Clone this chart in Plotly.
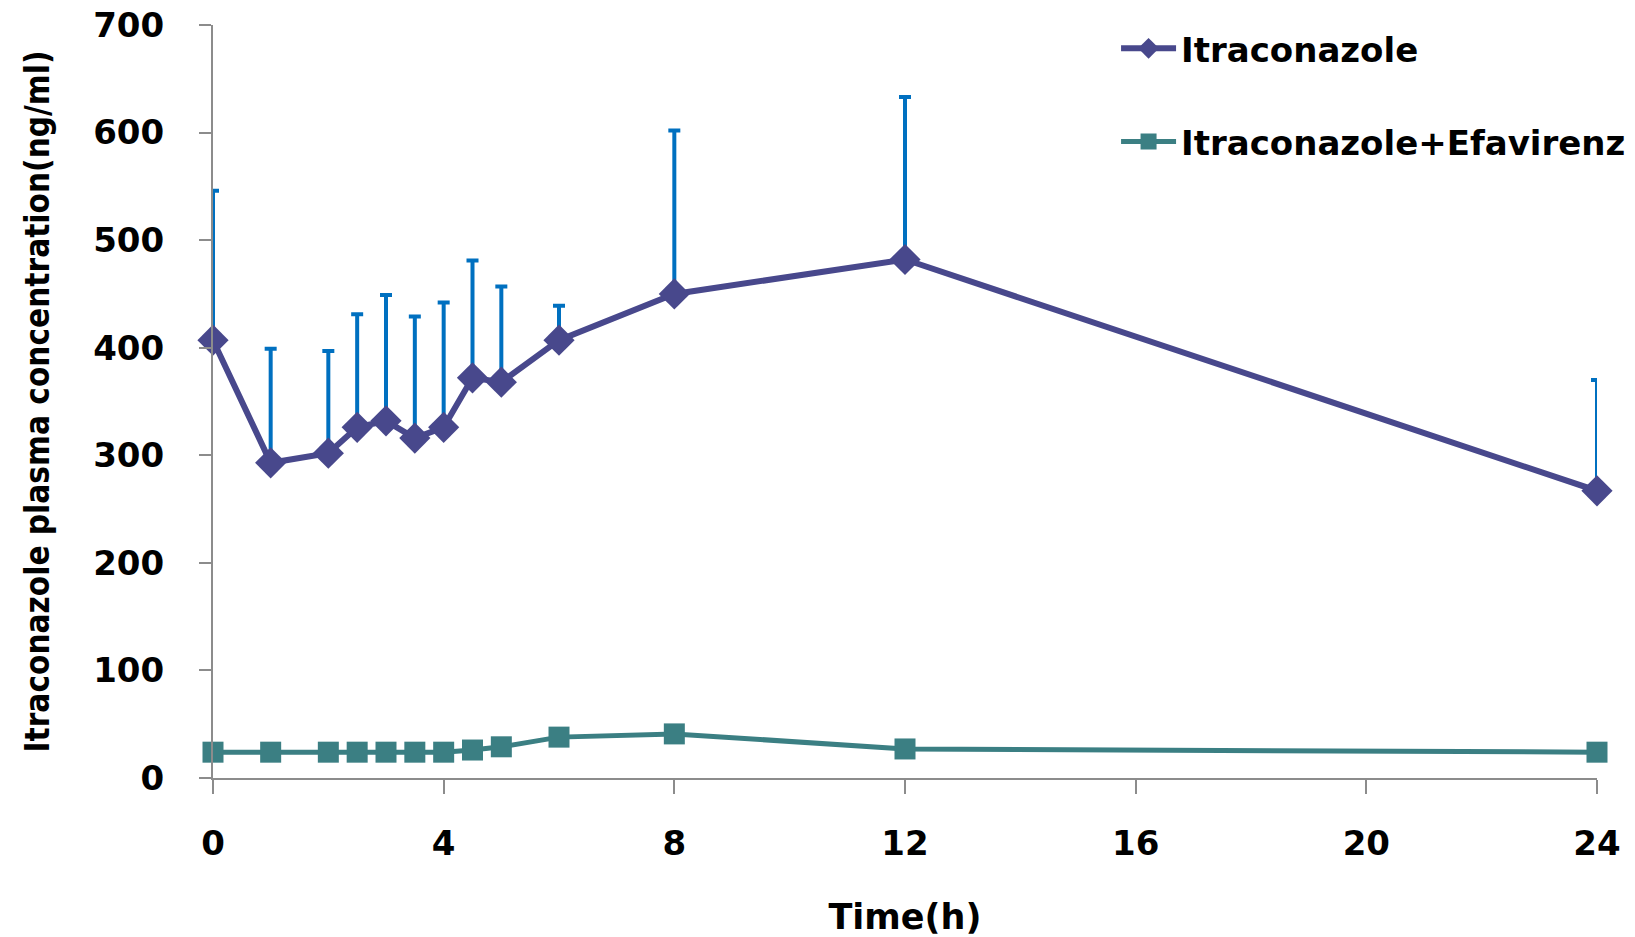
import plotly.graph_objects as go

time_h = [0, 1, 2, 2.5, 3, 3.5, 4, 4.5, 5, 6, 8, 12, 24]
itra = [407, 293, 302, 326, 332, 316, 326, 372, 368, 407, 450, 482, 267]
itra_sd = [139, 106, 95, 105, 117, 113, 116, 109, 89, 32, 152, 151, 103]
itra_efv = [24, 24, 24, 24, 24, 24, 24, 26, 29, 38, 41, 27, 24]

x_ticks = [0, 4, 8, 12, 16, 20, 24]
y_ticks = [0, 100, 200, 300, 400, 500, 600, 700]

tick_font = dict(family="DejaVu Sans", size=34, color="black", weight="bold")

fig = go.Figure()
fig.add_trace(go.Scatter(
    x=time_h, y=itra, name="Itraconazole", mode="lines+markers",
    legendgroup="a",
    line=dict(color="#48488C", width=6),
    marker=dict(symbol="diamond", size=24, color="#48488C"),
    error_y=dict(type="data", array=itra_sd, arrayminus=[0] * len(itra_sd),
                 symmetric=False, color="#0070C0", thickness=4, width=6),
    cliponaxis=False,
))
fig.add_trace(go.Scatter(
    x=time_h, y=itra_efv, name="Itraconazole+Efavirenz", mode="lines+markers",
    legendgroup="b",
    line=dict(color="#3B7F83", width=5),
    marker=dict(symbol="square", size=21, color="#3B7F83"),
    cliponaxis=False,
))

fig.update_layout(
    width=1635, height=937,
    margin=dict(l=213, r=38, t=25, b=159, autoexpand=False),
    paper_bgcolor="white", plot_bgcolor="white",
    showlegend=True,
    legend=dict(x=0.6525, y=1.007, xanchor="left", yanchor="top",
                font=dict(family="DejaVu Sans", size=34, color="black", weight="bold"),
                tracegroupgap=46, itemwidth=55, bgcolor="rgba(0,0,0,0)"),
    xaxis=dict(range=[0, 24], tickvals=x_ticks, ticktext=[str(v) for v in x_ticks],
               showgrid=False, zeroline=False, showline=True, linecolor="#8C8C8C",
               linewidth=2, ticks="outside", ticklen=14, tickcolor="#8C8C8C",
               tickwidth=2, tickfont=tick_font, ticklabelstandoff=20,
               title=dict(text="Time(h)", font=dict(family="DejaVu Sans", size=35,
                                                    color="black", weight="bold"),
                          standoff=44)),
    yaxis=dict(range=[0, 700], tickvals=y_ticks, ticktext=[str(v) for v in y_ticks],
               showgrid=False, zeroline=False, showline=True, linecolor="#8C8C8C",
               linewidth=2, ticks="outside", ticklen=12, tickcolor="#8C8C8C",
               tickwidth=2, tickfont=tick_font, ticklabelstandoff=28,
               title=dict(text="Itraconazole plasma concentration(ng/ml)",
                          font=dict(family="Liberation Sans Narrow, DejaVu Sans Condensed",
                                    size=33, color="black", weight="bold"),
                          standoff=34)),
)

fig.write_html("out.html")
